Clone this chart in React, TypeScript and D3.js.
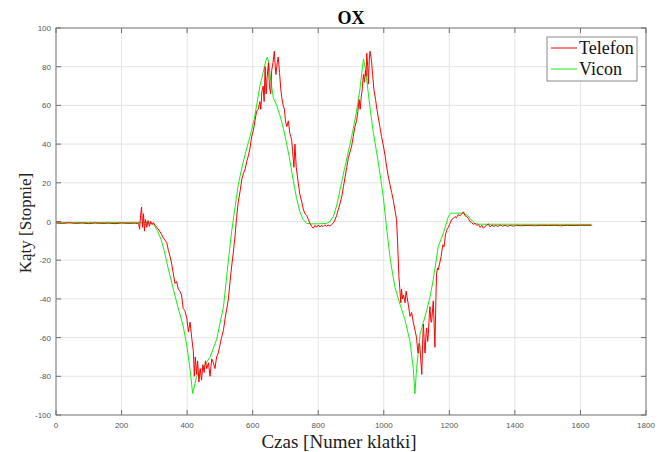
import React from "react";
import * as d3 from "d3";

// Orientation angle around the X axis: phone estimate vs. Vicon reference
const telefon: [number, number][] = [
  [0, -0.8], [20, -1], [40, -0.7], [60, -1], [80, -0.8], [100, -1.1], [120, -0.8], [140, -1],
  [160, -0.9], [180, -1.1], [200, -0.8], [220, -1], [240, -0.9], [252, -1], [255, -4], [258, 3],
  [261, 7.5], [264, -3], [267, 4], [270, -5], [273, 1], [277, -3], [281, 0.5], [285, -2.5],
  [289, 0], [293, -1.5], [297, -0.5], [302, -2], [308, -3], [314, -4.5], [320, -6], [326, -8],
  [332, -9.5], [338, -11], [343, -15], [348, -18], [353, -22], [358, -27], [363, -32], [368, -31],
  [373, -35], [378, -36], [383, -38], [388, -45], [393, -46], [399, -50], [404, -57], [409, -52],
  [414, -60], [419, -67], [422, -80], [425, -70], [429, -79], [432, -72], [436, -83], [440, -76],
  [444, -82], [448, -74], [452, -78], [456, -72], [460, -76], [465, -73], [470, -80], [475, -71],
  [480, -73], [485, -76], [490, -70], [495, -68], [500, -64], [505, -60], [511, -56], [516, -50],
  [521, -45], [526, -40], [531, -31], [536, -23], [541, -16], [546, -8], [551, 2], [556, 10],
  [562, 16], [567, 22], [572, 25], [577, 27], [582, 31], [587, 34], [592, 38], [597, 44],
  [602, 47], [607, 52], [612, 57], [617, 58], [622, 62], [625, 58], [628, 67], [632, 70],
  [635, 62], [638, 80], [641, 66], [644, 74], [648, 82], [651, 70], [655, 66], [658, 78],
  [662, 82], [666, 88], [669, 80], [671, 76], [675, 82], [678, 85], [682, 77], [686, 68],
  [689, 64], [693, 60], [697, 58], [700, 52], [704, 49], [709, 52], [713, 46], [716, 44],
  [719, 42], [722, 36], [726, 28], [729, 40], [733, 28], [736, 24], [739, 20], [744, 14],
  [750, 10], [755, 6], [760, 4], [765, 3], [770, 1], [775, -1], [780, -2.5], [785, -3.5],
  [790, -2], [795, -3], [800, -1.8], [805, -2.8], [810, -2], [815, -2.6], [820, -1.7], [825, -2.5],
  [830, -1.8], [836, -2.4], [841, -1.6], [846, -0.8], [851, 0.8], [856, 3], [861, 6], [866, 9],
  [872, 13], [877, 18], [882, 23], [887, 28], [892, 33], [897, 36], [902, 39], [907, 44],
  [912, 49], [917, 52], [921, 57], [925, 63], [928, 58], [931, 64], [934, 68], [938, 76],
  [941, 72], [944, 78], [946, 75], [948, 87], [951, 80], [953, 71], [956, 84], [958, 88],
  [961, 85], [963, 82], [966, 76], [970, 68], [975, 63], [979, 58], [983, 54], [988, 49],
  [993, 44], [999, 39], [1004, 34], [1009, 28], [1014, 23], [1019, 19], [1024, 15], [1029, 11],
  [1034, 6], [1039, 1], [1042, -10], [1046, -28], [1049, -35], [1052, -42], [1054, -35], [1057, -40],
  [1060, -38], [1065, -42], [1068, -36], [1070, -38], [1075, -43], [1080, -49], [1085, -47], [1090, -52],
  [1095, -56], [1100, -60], [1103, -66], [1105, -68], [1108, -63], [1110, -64], [1113, -72], [1116, -79],
  [1119, -60], [1121, -53], [1124, -65], [1126, -68], [1129, -58], [1131, -55], [1134, -62], [1136, -58],
  [1139, -48], [1141, -44], [1144, -52], [1146, -52], [1149, -45], [1151, -41], [1154, -55], [1156, -65],
  [1159, -40], [1161, -27], [1164, -24], [1166, -25], [1170, -22], [1175, -18], [1180, -12], [1184, -13],
  [1188, -7], [1192, -4.5], [1197, -3], [1202, -1], [1207, 1], [1212, 1.5], [1217, 2.5], [1222, 2],
  [1227, 3.5], [1233, 3], [1238, 4], [1243, 5], [1248, 3], [1253, 2.5], [1258, 1.5], [1263, 0],
  [1268, -0.5], [1273, -1.5], [1278, -1], [1284, -2], [1289, -1.5], [1294, -3], [1299, -2], [1304, -3.5],
  [1309, -2.5], [1314, -2], [1319, -1.2], [1324, -2.8], [1330, -1.8], [1336, -2.5], [1342, -2], [1348, -2.6],
  [1355, -1.8], [1362, -2.4], [1370, -2], [1378, -2.5], [1386, -2], [1395, -2.4], [1405, -2], [1420, -2.2],
  [1440, -2], [1460, -2.2], [1480, -2], [1500, -2.1], [1520, -2], [1540, -2.2], [1560, -2], [1580, -2.1],
  [1600, -2], [1634, -2],
];

const vicon: [number, number][] = [
  [0, -0.5], [280, -0.5], [290, -1], [300, -2], [310, -5], [320, -9], [330, -15], [342, -24],
  [355, -33], [370, -43], [388, -54], [400, -65], [410, -78], [417, -89], [429, -80], [440, -77],
  [455, -74], [470, -70], [490, -61], [511, -44], [526, -20], [536, -5], [546, 7], [556, 19],
  [570, 30], [582, 38], [592, 44], [605, 53], [615, 63], [622, 70], [632, 77], [640, 83],
  [645, 85], [650, 81], [655, 73], [663, 64], [673, 60], [683, 55], [694, 48], [704, 40],
  [714, 31], [724, 21], [734, 12], [744, 5], [754, 1], [765, -1], [780, -1.2], [800, -1.2],
  [826, -1], [835, 0], [846, 2.5], [856, 8], [866, 16], [880, 27], [897, 40], [907, 48],
  [917, 57], [927, 68], [938, 84], [943, 80], [948, 73], [958, 59], [968, 46], [978, 36],
  [989, 24], [999, 12], [1009, -4], [1020, -20], [1034, -34], [1050, -43], [1065, -51], [1080, -62],
  [1090, -76], [1095, -89], [1100, -76], [1111, -58], [1121, -52], [1131, -46], [1141, -39], [1151, -30],
  [1166, -13], [1182, -6], [1197, 2.5], [1204, 4.3], [1220, 4.3], [1242, 4.3], [1256, 3], [1266, 1],
  [1278, -1], [1290, -1.4], [1634, -1.5],
];

const xTicks = d3.range(0, 1801, 200);
const yTicks = d3.range(-100, 101, 20);

const seriesNames = ["Telefon", "Vicon"];
const seriesColors = ["#ff0000", "#11f011"];

const W = 665;
const H = 452;
const M = { left: 56, right: 19, top: 28, bottom: 37 };

export default function App() {
  const x = d3.scaleLinear().domain([0, 1800]).range([M.left, W - M.right]);
  const y = d3.scaleLinear().domain([-100, 100]).range([H - M.bottom, M.top]);
  const line = d3
    .line<[number, number]>()
    .x((d) => x(d[0]))
    .y((d) => y(d[1]));

  const x0 = x.range()[0];
  const x1 = x.range()[1];
  const y0 = y.range()[0];
  const y1 = y.range()[1];
  const tickLen = 5;
  const axisColor = "#6e6e6e";
  const serif = "'Liberation Serif', 'Times New Roman', serif";
  const sans = "'Liberation Sans', Arial, sans-serif";

  const legend = { x: 547, y: 37, w: 90, h: 44 };

  return (
    <svg
      width={W}
      height={H}
      style={{ position: "absolute", left: 0, top: 0, background: "#fff" }}
    >
      <rect x={0} y={0} width={W} height={H} fill="#fff" />
      {/* grid */}
      <g stroke="#e4e4e4" strokeWidth={1}>
        {xTicks.slice(1, -1).map((t) => (
          <line key={"gx" + t} x1={x(t)} x2={x(t)} y1={y0} y2={y1} />
        ))}
        {yTicks.slice(1, -1).map((t) => (
          <line key={"gy" + t} x1={x0} x2={x1} y1={y(t)} y2={y(t)} />
        ))}
      </g>

      {/* series */}
      <path d={line(vicon) ?? ""} fill="none" stroke={seriesColors[1]} strokeWidth={1} />
      <path d={line(telefon) ?? ""} fill="none" stroke={seriesColors[0]} strokeWidth={1} />

      {/* box and ticks */}
      <rect x={x0} y={y1} width={x1 - x0} height={y0 - y1} fill="none" stroke={axisColor} strokeWidth={1} />
      <g stroke={axisColor} strokeWidth={1}>
        {xTicks.map((t) => (
          <g key={"tx" + t}>
            <line x1={x(t)} x2={x(t)} y1={y0} y2={y0 - tickLen} />
            <line x1={x(t)} x2={x(t)} y1={y1} y2={y1 + tickLen} />
          </g>
        ))}
        {yTicks.map((t) => (
          <g key={"ty" + t}>
            <line x1={x0} x2={x0 + tickLen} y1={y(t)} y2={y(t)} />
            <line x1={x1} x2={x1 - tickLen} y1={y(t)} y2={y(t)} />
          </g>
        ))}
      </g>

      {/* tick labels */}
      <g fontFamily={sans} fontSize={8} fill="#555">
        {xTicks.map((t) => (
          <text key={"lx" + t} x={x(t)} y={y0 + 13} textAnchor="middle">
            {t}
          </text>
        ))}
        {yTicks.map((t) => (
          <text key={"ly" + t} x={x0 - 5} y={y(t) + 3} textAnchor="end">
            {t}
          </text>
        ))}
      </g>

      {/* title and axis labels */}
      <text x={351} y={24} textAnchor="middle" fontFamily={serif} fontWeight="bold" fontSize={18} fill="#000">
        OX
      </text>
      <text x={339} y={448} textAnchor="middle" fontFamily={serif} fontSize={19} fill="#222">
        Czas [Numer klatki]
      </text>
      <text
        transform={`translate(31, ${223}) rotate(-90)`}
        textAnchor="middle"
        fontFamily={serif}
        fontSize={17}
        fill="#222"
      >
        Kąty [Stopnie]
      </text>

      {/* legend */}
      <rect x={legend.x} y={legend.y} width={legend.w} height={legend.h} fill="#fff" stroke="#8a8a8a" strokeWidth={1} />
      {seriesNames.map((name, i) => (
        <g key={name}>
          <line
            x1={legend.x + 4}
            x2={legend.x + 30}
            y1={legend.y + 11 + i * 21}
            y2={legend.y + 11 + i * 21}
            stroke={seriesColors[i]}
            strokeWidth={1}
          />
          <text x={legend.x + 32} y={legend.y + 17 + i * 21} fontFamily={serif} fontSize={18} fill="#111">
            {name}
          </text>
        </g>
      ))}
    </svg>
  );
}
